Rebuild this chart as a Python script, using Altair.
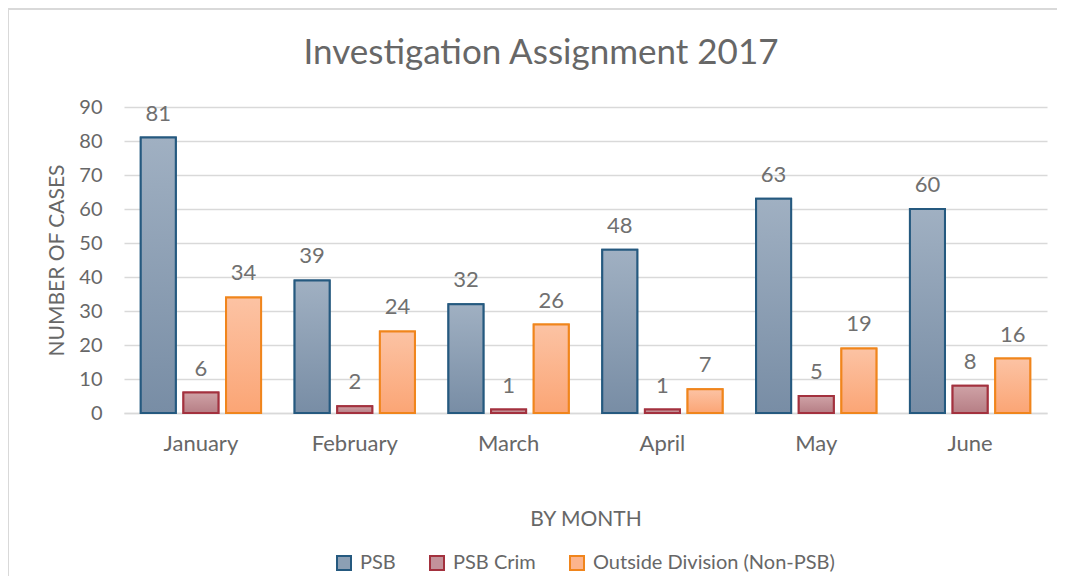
import altair as alt
import pandas as pd

months = ["January", "February", "March", "April", "May", "June"]
series = ["PSB", "PSB Crim", "Outside Division (Non-PSB)"]
psb = [81, 39, 32, 48, 63, 60]
psb_crim = [6, 2, 1, 1, 5, 8]
outside = [34, 24, 26, 7, 19, 16]
chart_title = "Investigation Assignment 2017"

rows = []
for name, vals in zip(series, [psb, psb_crim, outside]):
    for m, v in zip(months, vals):
        rows.append({"Month": m, "Series": name, "Cases": v})
df = pd.DataFrame(rows)

solid_fill = ["#8c9fb4", "#c3929a", "#fcb48c"]
stroke_cols = ["#25597f", "#a3313e", "#f0851c"]
grad_top = ["#a0b0c2", "#cfa2a6", "#fcc3a4"]
grad_bot = ["#788da5", "#b67e85", "#fba575"]

FONT = "Lato"
TXT = "#676767"

x_enc = alt.X("Month:N", sort=months,
              scale=alt.Scale(paddingInner=0.218, paddingOuter=0.109),
              axis=alt.Axis(title="BY MONTH", labelAngle=0, ticks=False,
                            domainColor="#d9d9d9", domainWidth=1.5,
                            labelPadding=20, titlePadding=54,
                            labelFontSize=22, titleFontSize=21,
                            labelColor=TXT, titleColor=TXT,
                            titleFontWeight="normal", labelFont=FONT, titleFont=FONT))
xo_enc = alt.XOffset("Series:N", sort=series,
                     scale=alt.Scale(domain=series, paddingInner=0.179, paddingOuter=0))
y_enc = alt.Y("Cases:Q",
              scale=alt.Scale(domain=[0, 90], nice=False),
              axis=alt.Axis(title="NUMBER OF CASES", values=list(range(0, 91, 10)),
                            ticks=False, domain=False, gridColor="#d9d9d9", gridWidth=1.5,
                            labelPadding=22, titlePadding=11,
                            labelFontSize=20, titleFontSize=21,
                            labelColor=TXT, titleColor=TXT,
                            titleFontWeight="normal", labelFont=FONT, titleFont=FONT))

base = alt.Chart(df)

legend_layer = base.mark_bar(strokeWidth=2).encode(
    x=x_enc, xOffset=xo_enc, y=y_enc,
    fill=alt.Fill("Series:N", sort=series,
                  scale=alt.Scale(domain=series, range=solid_fill),
                  legend=alt.Legend(title=None, orient="none", direction="horizontal",
                                    legendX=210, legendY=446,
                                    symbolType="square", symbolSize=196,
                                    symbolStrokeWidth=2, labelLimit=0,
                                    labelFontSize=20, labelColor=TXT, labelFont=FONT,
                                    columnPadding=30, symbolOffset=0, labelOffset=6)),
    stroke=alt.Stroke("Series:N", sort=series,
                      scale=alt.Scale(domain=series, range=stroke_cols)),
)

layers = [legend_layer]
for i, s in enumerate(series):
    grad = alt.Gradient(
        gradient="linear", x1=0, y1=0, x2=0, y2=1,
        stops=[alt.GradientStop(offset=0, color=grad_top[i]),
               alt.GradientStop(offset=1, color=grad_bot[i])])
    layers.append(
        base.transform_filter(alt.datum.Series == s).mark_bar(
            fill=grad, stroke=stroke_cols[i], strokeWidth=2
        ).encode(x=x_enc, xOffset=xo_enc, y=y_enc)
    )

labels = base.mark_text(baseline="bottom", dy=-12, fontSize=22, color="#707070",
                        font=FONT).encode(
    x=x_enc, xOffset=xo_enc, y=y_enc, text="Cases:Q")
layers.append(labels)

border = alt.Chart(pd.DataFrame({"a": [0]})).mark_rect(
    fill=None, stroke="#d9d9d9", strokeWidth=2).encode(
    x=alt.value(-116), x2=alt.value(1100), y=alt.value(-98), y2=alt.value(600))

title_mark = alt.Chart(pd.DataFrame({"t": [chart_title]})).mark_text(
    fontSize=35, font=FONT, color=TXT, align="center", baseline="middle").encode(
    x=alt.value(417), y=alt.value(-54), text="t:N")

chart = alt.layer(border, *layers, title_mark).properties(
    width=923, height=306,
    autosize=alt.AutoSizeParams(type="none"),
    padding={"left": 116, "top": 99, "right": 10, "bottom": 163},
).configure_view(stroke=None)

chart.save("out.html", embed_options={"renderer": "svg", "actions": False})
